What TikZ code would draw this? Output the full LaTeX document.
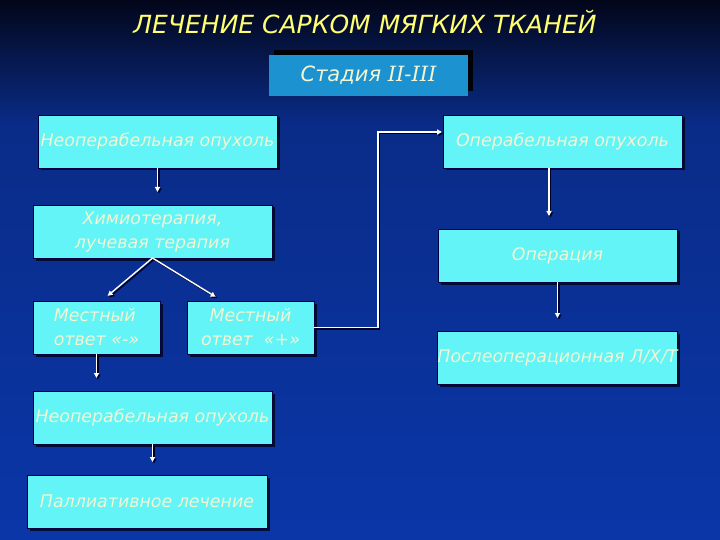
\documentclass[tikz,border=0pt]{standalone}
\usepackage{fontspec}
\setmainfont{DejaVu Sans}
\newfontfamily\romfont{DejaVu Serif}
\usetikzlibrary{arrows.meta, shadows}
\definecolor{cbox}{HTML}{62F4F6}
\definecolor{ctxt}{HTML}{F2F6D2}
\definecolor{cyel}{HTML}{FFFF70}
\definecolor{cstage}{HTML}{1C92D0}
\definecolor{cbgtop}{HTML}{03061A}
\definecolor{cbgmid}{HTML}{0A2C88}
\definecolor{cbgbot}{HTML}{0A36A8}
\tikzset{
  every picture/.style={line width=1.4pt},
  box/.style={draw=black!75!blue, line width=0.7pt, fill=cbox, text=ctxt, inner sep=0pt, outer sep=0pt,
    minimum width=239pt, minimum height=53pt, align=center,
    font=\fontsize{17.4}{24}\selectfont\itshape,
    drop shadow={shadow xshift=2.5pt, shadow yshift=-2.5pt, fill=black, opacity=.7}},
  small/.style={box, minimum width=127pt},
  arrow/.style={-{Triangle[length=5pt, width=5pt]}, draw=white, shorten >=13pt,
    preaction={draw=black!85!blue, transform canvas={shift={(1.5pt,-1.5pt)}}}},
}

\begin{document}
\begin{tikzpicture}[x=1pt, y=-1pt,
  stage/.style={fill=cstage, text=ctxt, minimum width=199pt, minimum height=41pt, inner sep=0pt,
    font=\fontsize{21}{24}\selectfont\itshape,
    drop shadow={shadow xshift=5pt, shadow yshift=5pt, fill=black, opacity=.9}},
  head/.style={text=cyel, font=\fontsize{25}{28}\selectfont\itshape}]
  \useasboundingbox (0,0) rectangle (720,540);
  \shade[top color=cbgtop, bottom color=cbgmid] (0,0) rectangle (720,125);
  \shade[top color=cbgmid, bottom color=cbgbot] (0,125) rectangle (720,540);
  \node[head] (tt) at (365,22) {ЛЕЧЕНИЕ САРКОМ МЯГКИХ ТКАНЕЙ};
  \node[stage] (st) at (368.5,75.5) {Стадия {\romfont\itshape II-III}};
  % left branch
  \node[box] (n1) at (157.5,141.5) {Неоперабельная опухоль};
  \node[box] (ch) at (152.5,231.5) {Химиотерапия,\\лучевая терапия};
  \node[small, align=left] (m1) at (96.5,327.5) {Местный\\ответ «-»};
  \node[small] (m2) at (250.5,327.5) {Местный\\ответ \ «+»};
  \node[box] (n2) at (152.5,417.5) {Неоперабельная опухоль};
  \node[box, minimum width=240pt] (pl) at (147,501.5) {Паллиативное лечение};
  % right branch
  \node[box] (oo) at (562.5,141.5) {Операбельная опухоль};
  \node[box] (op) at (557.5,255.5) {Операция};
  \node[box] (pt) at (557.5,357.5) {Послеоперационная Л/Х/Т};
  \coordinate (kn) at (378,132);
  \foreach \a/\b in {n1/ch, m1/n2, n2/pl, op/pt} \draw[arrow] (\a.south) -- (\a.south |- \b.north);
  \draw[arrow] ([xshift=-13.5pt]oo.south) -- ([xshift=-13.5pt]oo.south |- op.north);
  \draw[arrow, shorten >=8pt] (ch.south) -- ([xshift=5pt]m1.north);
  \draw[arrow, shorten >=8pt] (ch.south) -- ([xshift=-28pt]m2.north);
  \draw[arrow, shorten >=1pt] (m2.east) -| (kn) -- (kn -| oo.west);
\end{tikzpicture}
\end{document}
